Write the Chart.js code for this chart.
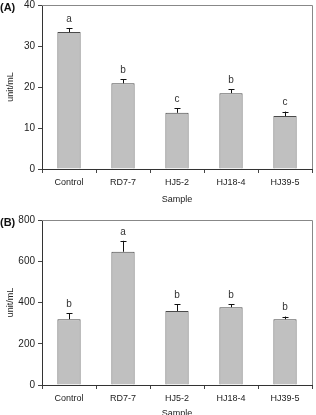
<!DOCTYPE html>
<html>
<head>
<meta charset="utf-8">
<script src="https://cdn.jsdelivr.net/npm/chart.js@4"></script>
<style>
  html, body { margin: 0; padding: 0; background: #fff; }
  body { width: 316px; height: 415px; position: relative; overflow: hidden; }
  .panel { position: absolute; left: 0; width: 316px; }
  #wrapA { top: 0; height: 208px; }
  #wrapB { top: 208px; height: 212px; }
</style>
</head>
<body>
<div class="panel" id="wrapA"><canvas id="chartA"></canvas></div>
<div class="panel" id="wrapB"><canvas id="chartB"></canvas></div>
<script>
const samples = ['Control', 'RD7-7', 'HJ5-2', 'HJ18-4', 'HJ39-5']

const valuesA = [33.4, 20.9, 13.7, 18.5, 12.9]
const errorsA = [1.0, 1.0, 1.1, 1.0, 1.1]
const lettersA = ['a', 'b', 'c', 'b', 'c']

const valuesB = [319, 646, 359, 377, 319]
const errorsB = [29, 53, 33, 15, 13]
const lettersB = ['b', 'a', 'b', 'b', 'b']

const FONT = "'Liberation Sans', Arial, sans-serif"

// error bars (upper only) + significance letters, drawn from the arrays
const barExtras = {
    id: 'barExtras',
    afterDatasetsDraw(chart, args, opts) {
        let ctx = chart.ctx
        let y = chart.scales.y
        let meta = chart.getDatasetMeta(0)
        ctx.save()
        meta.data.forEach((bar, i) => {
            let top = y.getPixelForValue(opts.values[i] + opts.errors[i])
            let base = y.getPixelForValue(opts.values[i])
            ctx.strokeStyle = '#111'
            ctx.lineWidth = 1
            ctx.beginPath()
            ctx.moveTo(Math.round(bar.x) + 0.5, base)
            ctx.lineTo(Math.round(bar.x) + 0.5, top)
            ctx.moveTo(Math.round(bar.x) - 2.5, Math.round(top) + 0.5)
            ctx.lineTo(Math.round(bar.x) + 3.5, Math.round(top) + 0.5)
            ctx.stroke()

            ctx.fillStyle = '#333'
            ctx.font = '10px ' + FONT
            ctx.textAlign = 'center'
            ctx.textBaseline = 'bottom'
            ctx.fillText(opts.letters[i], bar.x, top - 4)
        })
        // frame on top and right
        let a = chart.chartArea
        ctx.strokeStyle = '#888'
        ctx.beginPath()
        ctx.moveTo(a.left, Math.round(a.top) + 0.5)
        ctx.lineTo(Math.round(a.right) + 0.5, Math.round(a.top) + 0.5)
        ctx.lineTo(Math.round(a.right) + 0.5, a.bottom)
        ctx.stroke()
        // panel tag
        ctx.fillStyle = '#111'
        ctx.font = 'bold 11px ' + FONT
        ctx.textAlign = 'left'
        ctx.textBaseline = 'middle'
        ctx.fillText(opts.tag, 0, a.top + 3)
        ctx.restore()
    },
}

function makeChart(id, values, errors, letters, tag, yMax, step, padTop, xHeight, titlePadBottom) {
    return new Chart(document.getElementById(id), {
        type: 'bar',
        data: {
            labels: samples,
            datasets: [{
                data: values,
                backgroundColor: '#c0c0c0',
                borderColor: '#4a4a4a',
                borderWidth: 1,
                barPercentage: 0.43,
                categoryPercentage: 1,
            }],
        },
        options: {
            responsive: true,
            maintainAspectRatio: false,
            animation: false,
            layout: {padding: {top: padTop, right: 4, left: 0, bottom: 0}},
            plugins: {
                legend: {display: false},
                tooltip: {enabled: false},
                barExtras: {values, errors, letters, tag},
            },
            scales: {
                x: {
                    afterFit(scale) { scale.height = xHeight },
                    border: {display: true, color: '#333', width: 1},
                    grid: {drawOnChartArea: false, tickLength: 4, color: '#444', offset: true},
                    ticks: {color: '#222', font: {family: FONT, size: 9}, padding: 4, maxRotation: 0},
                    title: {display: true, text: 'Sample', color: '#222', font: {family: FONT, size: 9}, padding: {top: 4, bottom: titlePadBottom}},
                },
                y: {
                    min: 0,
                    max: yMax,
                    afterFit(scale) {
                        scale.width = 42
                        scale.paddingTop = 0
                        scale.paddingBottom = 0
                    },
                    border: {display: true, color: '#333', width: 1},
                    grid: {drawOnChartArea: false, tickLength: 4, color: '#444'},
                    ticks: {stepSize: step, color: '#222', font: {family: FONT, size: 10}, padding: 3},
                    title: {display: true, text: 'unit/mL', color: '#222', font: {family: FONT, size: 9}, padding: {top: 5, bottom: 0}},
                },
            },
        },
        plugins: [barExtras],
    })
}

makeChart('chartA', valuesA, errorsA, lettersA, '(A)', 40, 10, 5, 39, 3.5)
makeChart('chartB', valuesB, errorsB, lettersB, '(B)', 800, 200, 12, 35, 1.5)
</script>
</body>
</html>
